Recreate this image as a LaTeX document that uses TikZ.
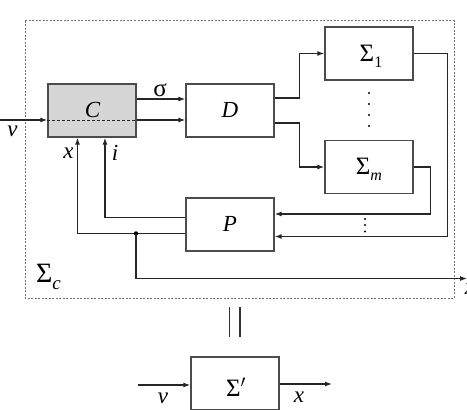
\documentclass[tikz,border=0pt]{standalone}
\usepackage{fontspec}
\setmainfont{Liberation Serif}
\usetikzlibrary{arrows.meta,calc}
\newcommand\lowsub[1]{\raisebox{-6pt}{\fontsize{16}{16}\selectfont #1}}
\begin{document}
\begin{tikzpicture}[x=1pt,y=-1pt,
  line width=1.2pt,
  wire/.style={draw=black!85},
  arr/.style={wire,-{Latex[length=7pt,width=5pt]}},
  blk/.style={draw=black!70,line width=1.3pt,minimum width=88pt,minimum height=53pt,inner sep=0pt},
  lbl/.style={font=\fontsize{23}{26}\selectfont\itshape,inner sep=0pt},
  sig/.style={font=\fontsize{25}{28}\selectfont,inner sep=0pt},
  dotty/.style={fill=black,draw=none,circle,inner sep=0pt,minimum size=2.4pt}]
\useasboundingbox (0,0) rectangle (467,410);
% outer dashed frame
\draw[black!55,line width=0.9pt,dash pattern=on 2pt off 1.5pt] (25,20.5) rectangle (454,298);
% blocks
\node[blk,fill=black!16] (C) at (92,110.5) {};
\node[lbl] (Clbl) at (92.5,110) {C};
\node[blk] (D) at (230,110.5) {};
\node[lbl] (Dlbl) at (230,110) {D};
\node[blk] (S1) at (369,53.5) {};
\node[sig] (S1lbl) at (371,56) {Σ\lowsub{1}};
\node[blk] (Sm) at (369,167) {};
\node[sig] (Smlbl) at (369,169) {Σ\lowsub{\itshape m}};
\node[blk] (P) at (230,224.5) {};
\node[lbl] (Plbl) at (230,224) {P};
\node[blk] (Sp) at (235,383.5) {};
\node[sig] (Splbl) at (236,387) {Σ$'$};
\node[sig,font=\fontsize{28}{30}\selectfont] (Sclbl) at (48.5,277) {Σ\raisebox{-7pt}{\fontsize{19}{19}\selectfont\itshape c}};
% input v
\coordinate (vin) at (0,120);
\draw[arr] (vin) -- (vin -| C.west);
\draw[wire,line width=0.8pt,dash pattern=on 3pt off 2pt] (vin -| C.west) -- (vin -| C.east);
\draw[arr] (vin -| C.east) -- (vin -| D.west);
\node[lbl] (vlbl) at (12.5,131) {v};
% sigma
\draw[arr] ([yshift=11.5pt]C.east) -- ([yshift=11.5pt]D.west);
\node[sig] (siglbl) at (160,90) {σ};
% D to subsystems
\draw[arr] ([yshift=12.5pt]D.east) -- ++(25,0) |- (S1.west);
\draw[arr] ([yshift=-12.5pt]D.east) -- ++(25,0) |- (Sm.west);
\foreach \yy in {93,104,115,126} \node[dotty] at (369,\yy) {};
% subsystems to P
\draw[arr] (S1.east) -- ++(34,0) |- ([yshift=-12pt]P.east);
\draw[arr] (Sm.east) -- ++(17,0) |- ([yshift=10.5pt]P.east);
\foreach \yy in {219,225,231.5} \node[dotty] at (365,\yy) {};
% P to C
\draw[arr] ([yshift=7pt]P.west) -| ([xshift=13pt]C.south);
\draw[arr] ([yshift=-9pt]P.west) -| ([xshift=-14.5pt]C.south);
\node[lbl] (ilbl) at (115,153) {i};
\node[lbl] (xlbl) at (68.5,153) {x};
% output x
\coordinate (j) at (136,233.5);
\coordinate (xout) at (467,278.5);
\node[circle,fill=black,inner sep=0pt,minimum size=4.5pt] (jdot) at (j) {};
\draw[arr] (j) |- (xout);
\node[lbl] (xoutlbl) at (470,289) {x};
% equality
\draw[black!80,line width=1.7pt] (229.5,307) -- (229.5,337) (240,307) -- (240,337);
% Sigma' block
\coordinate (vin2) at (138,385);
\coordinate (xout2) at (332,384);
\draw[arr] (vin2) -- (vin2 -| Sp.west);
\draw[arr] (xout2 -| Sp.east) -- (xout2);
\node[lbl] (v2lbl) at (163,398) {v};
\node[lbl] (x2lbl) at (299,397) {x};
\end{tikzpicture}
\end{document}
